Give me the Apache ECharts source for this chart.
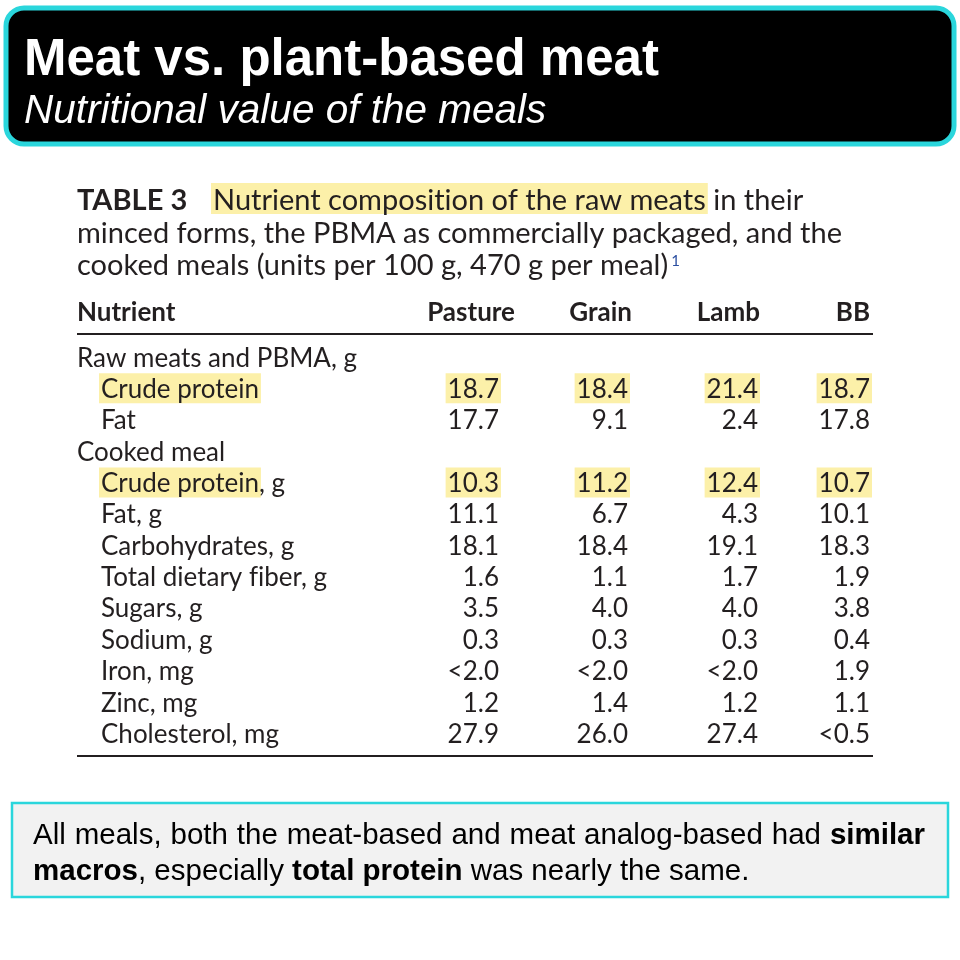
<!DOCTYPE html>
<html>
<head>
<meta charset="utf-8">
<title>Meat vs. plant-based meat</title>
<style>
  html, body { margin: 0; padding: 0; background: #fff; }
  #main { width: 960px; height: 960px; }
</style>
</head>
<body>
<div id="main"></div>
<script src="https://cdn.jsdelivr.net/npm/echarts@6/dist/echarts.min.js"></script>
<script>
// table data
var columns = ['Pasture', 'Grain', 'Lamb', 'BB'];
var rowLabels = ['Raw meats and PBMA, g', 'Crude protein', 'Fat', 'Cooked meal', 'Crude protein, g', 'Fat, g',
  'Carbohydrates, g', 'Total dietary fiber, g', 'Sugars, g', 'Sodium, g', 'Iron, mg', 'Zinc, mg', 'Cholesterol, mg'];
var rowIndent = [0, 1, 1, 0, 1, 1, 1, 1, 1, 1, 1, 1, 1];
var pasture = ['', '18.7', '17.7', '', '10.3', '11.1', '18.1', '1.6', '3.5', '0.3', '<2.0', '1.2', '27.9'];
var grain   = ['', '18.4', '9.1',  '', '11.2', '6.7',  '18.4', '1.1', '4.0', '0.3', '<2.0', '1.4', '26.0'];
var lamb    = ['', '21.4', '2.4',  '', '12.4', '4.3',  '19.1', '1.7', '4.0', '0.3', '<2.0', '1.2', '27.4'];
var bb      = ['', '18.7', '17.8', '', '10.7', '10.1', '18.3', '1.9', '3.8', '0.4', '1.9',  '1.1', '<0.5'];
var highlightRows = [1, 4];
var highlightLabelPart = ['', 'Crude protein', '', '', 'Crude protein', '', '', '', '', '', '', '', ''];

var colValues = [pasture, grain, lamb, bb];

var myChart = echarts.init(document.getElementById('main'));

var ctx = document.createElement('canvas').getContext('2d');
function textW(str, font) {
  ctx.font = font;
  return ctx.measureText(str).width;
}
// place text by its baseline (graphic text is drawn from the top)
function txt(str, x, base, size, font, fill, align) {
  return { type: 'text', style: { text: str, x: x, y: base - 0.72 * size, font: font, fill: fill, textAlign: align || 'left' } };
}
// keep Lato from joining "ti" / "fi" into ligatures
function noLig(s) {
  return s.replace(/ti/g, 't\u200Ci').replace(/fi/g, 'f\u200Ci');
}

var bodySize = 26, capSize = 29, headSize = 26;
var tFont = bodySize + 'px Lato';
var cFont = capSize + 'px Lato';
var hFont = 'bold ' + headSize + 'px Lato';
var ink = '#231f20';
var hl = '#fcf0a9';

var els = [];

// header box
els.push({ type: 'rect', shape: { x: 6, y: 8, width: 948, height: 136, r: 18 },
  style: { fill: '#000', stroke: '#2ad6dc', lineWidth: 5 } });
els.push(txt('Meat vs. plant-based meat', 24, 72, 51, 'bold 51px "Liberation Sans"', '#fff'));
els.push(txt('Nutritional value of the meals', 24, 120, 40, 'italic 40.5px "Liberation Sans"', '#fff'));

// caption
var capX = 77;
var tag = 'TABLE 3';
var tagFont = 'bold ' + capSize + 'px Lato';
var hiPart = noLig('Nutrient composition of the raw meats');
var hiX = 213;
var hiW = textW(hiPart, cFont);
els.push({ type: 'rect', shape: { x: hiX - 2, y: 183, width: hiW + 4, height: 31 }, style: { fill: hl } });
els.push(txt(tag, capX, 207, capSize, tagFont, ink));
els.push(txt(hiPart + ' in their', hiX, 207, capSize, cFont, ink));
els.push(txt('minced forms, the PBMA as commercially packaged, and the', capX, 240, capSize, cFont, ink));
var line3 = 'cooked meals (units per 100 g, 470 g per meal)';
els.push(txt(line3, capX, 272, capSize, cFont, ink));
els.push(txt('1', capX + textW(line3, cFont) + 3, 264, 15, '15px Lato', '#2b4ea0'));

// column header
var valRight = [499, 628, 758, 870];
var headRight = [515, 632, 760, 870];
els.push(txt('Nutrient', capX, 318, headSize, hFont, ink));
columns.forEach(function (c, i) {
  els.push(txt(c, headRight[i], 318, headSize, hFont, ink, 'right'));
});
els.push({ type: 'line', shape: { x1: capX, y1: 334, x2: 873, y2: 334 }, style: { stroke: ink, lineWidth: 2 } });

// body rows
var rowY0 = 364, rowStep = 31.35;
rowLabels.forEach(function (lab, r) {
  var y = rowY0 + r * rowStep;
  var x = capX + rowIndent[r] * 24;
  var isHl = highlightRows.indexOf(r) >= 0;
  if (isHl) {
    var w = textW(highlightLabelPart[r], tFont);
    els.push({ type: 'rect', shape: { x: x - 2, y: y - 22, width: w + 4, height: 30 }, style: { fill: hl } });
  }
  els.push(txt(noLig(lab), x, y, bodySize, tFont, ink));
  colValues.forEach(function (vals, c) {
    var v = vals[r];
    if (!v) return;
    if (isHl) {
      var vw = textW(v, tFont);
      els.push({ type: 'rect', shape: { x: valRight[c] - vw - 2, y: y - 22, width: vw + 4, height: 30 }, style: { fill: hl } });
    }
    els.push(txt(v, valRight[c], y, bodySize, tFont, ink, 'right'));
  });
});
els.push({ type: 'line', shape: { x1: capX, y1: 756, x2: 873, y2: 756 }, style: { stroke: ink, lineWidth: 2 } });

// footer note, justified first line
els.push({ type: 'rect', shape: { x: 12, y: 803, width: 936, height: 94 }, style: { fill: '#f2f2f2', stroke: '#2ad6dc', lineWidth: 2.5 } });
var noteLines = [
  [['All', 0], ['meals,', 0], ['both', 0], ['the', 0], ['meat-based', 0], ['and', 0], ['meat', 0], ['analog-based', 0], ['had', 0], ['similar', 1]],
  [['macros', 1], [', especially ', 0], ['total protein', 1], [' was nearly the same.', 0]]
];
var nSize = 29.5;
var nFont = nSize + 'px "Liberation Sans"', nBold = 'bold ' + nSize + 'px "Liberation Sans"';
var nLeft = 33, nRight = 925;
(function () {
  var words = noteLines[0];
  var total = 0;
  words.forEach(function (wd) { total += textW(wd[0], wd[1] ? nBold : nFont); });
  var gap = (nRight - nLeft - total) / (words.length - 1);
  var x = nLeft;
  words.forEach(function (wd) {
    var f = wd[1] ? nBold : nFont;
    els.push(txt(wd[0], x, 842, nSize, f, '#000'));
    x += textW(wd[0], f) + gap;
  });
})();
(function () {
  var x = nLeft;
  noteLines[1].forEach(function (wd) {
    var f = wd[1] ? nBold : nFont;
    els.push(txt(wd[0], x, 878, nSize, f, '#000'));
    x += textW(wd[0], f);
  });
})();

myChart.setOption({
  backgroundColor: '#fff',
  animation: false,
  graphic: { elements: els }
});
</script>
</body>
</html>
